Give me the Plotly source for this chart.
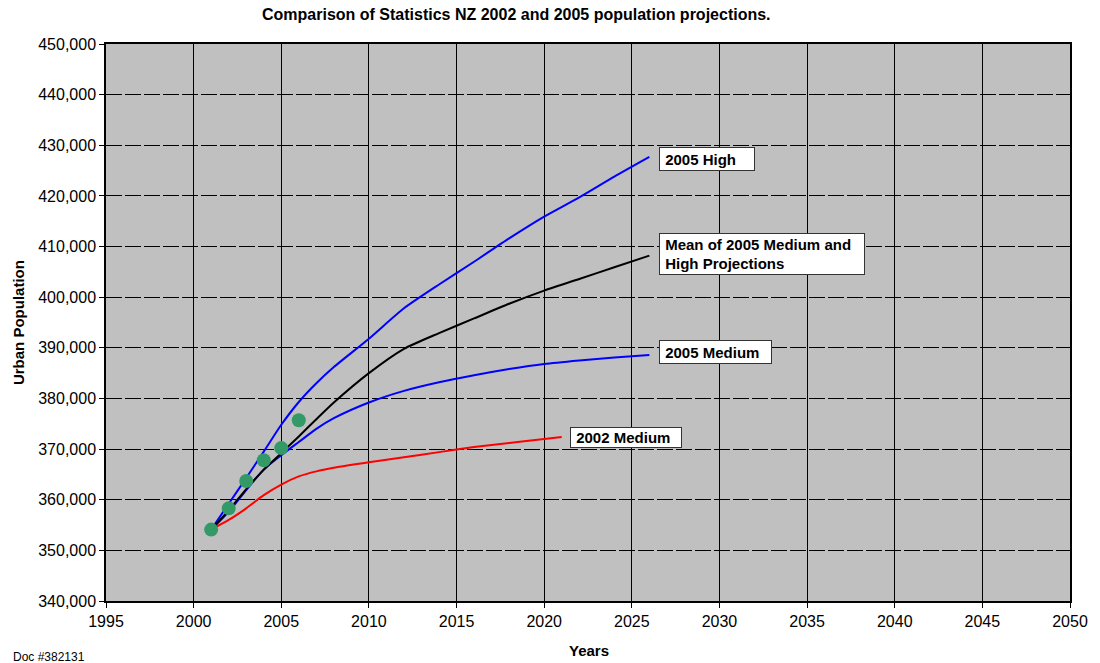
import plotly.graph_objects as go

# ---- data ----
proj_years = [2001, 2002, 2003, 2004, 2005, 2006, 2007, 2008, 2010, 2012, 2014, 2016, 2018, 2020, 2022, 2024, 2026]
high_2005 = [354100, 359200, 364300, 369500, 374800, 379300, 383000, 386200, 391800, 397800, 402500, 407000, 411600, 415900, 419700, 423800, 427700]
medium_2005 = [354100, 357600, 361900, 366000, 368800, 371400, 374000, 376100, 379200, 381500, 383200, 384600, 385800, 386800, 387500, 388100, 388600]
mean_2005 = [354100, 357900, 362100, 365900, 369200, 372500, 375900, 379200, 385000, 389800, 392900, 395800, 398700, 401300, 403600, 405900, 408200]

years_2002 = [2001, 2002, 2003, 2004, 2005, 2006, 2007, 2008, 2010, 2012, 2014, 2016, 2018, 2020, 2021]
medium_2002 = [354100, 356000, 358300, 360900, 363000, 364600, 365600, 366300, 367400, 368400, 369400, 370400, 371200, 372000, 372400]

est_years = [2001, 2002, 2003, 2004, 2005, 2006]
estimates = [354100, 358300, 363700, 367800, 370200, 375700]

labels = [["2005 High"], ["Mean of 2005 Medium and", "High Projections"], ["2005 Medium"], ["2002 Medium"]]
label_x = [2026.55, 2026.55, 2026.55, 2021.5]
label_y = [427300, 408600, 389100, 372200]
label_w = [92, 202, 109, 108]
label_h = [20, 38, 20, 17]

FONT = "Liberation Sans, Arial, sans-serif"

fig = go.Figure()
fig.add_trace(go.Scatter(x=years_2002, y=medium_2002, mode="lines",
                         line=dict(color="#FF0000", width=2, shape="spline", smoothing=0.6)))
fig.add_trace(go.Scatter(x=proj_years, y=medium_2005, mode="lines",
                         line=dict(color="#0000FF", width=2, shape="spline", smoothing=0.6)))
fig.add_trace(go.Scatter(x=proj_years, y=high_2005, mode="lines",
                         line=dict(color="#0000FF", width=2, shape="spline", smoothing=0.6)))
fig.add_trace(go.Scatter(x=proj_years, y=mean_2005, mode="lines",
                         line=dict(color="#000000", width=2, shape="spline", smoothing=0.6)))
fig.add_trace(go.Scatter(x=est_years, y=estimates, mode="markers",
                         marker=dict(color="#339966", size=14)))

for lines, x, y, w, h in zip(labels, label_x, label_y, label_w, label_h):
    text = "<br>".join("&nbsp;<b>" + s + "</b>" for s in lines)
    fig.add_annotation(x=x, y=y, xref="x", yref="y", text=text,
                       showarrow=False, xanchor="left", yanchor="middle", align="left",
                       width=w, height=h, bgcolor="white", bordercolor="#333333",
                       borderwidth=1, borderpad=1,
                       font=dict(family=FONT, size=15, color="black"))

fig.add_annotation(x=0.4256, y=1.0527, xref="paper", yref="paper",
                   text="<b>Comparison of Statistics NZ 2002 and 2005 population projections.</b>",
                   showarrow=False, xanchor="center", yanchor="middle",
                   font=dict(family=FONT, size=16, color="black"))
fig.add_annotation(x=0.501, y=-0.089, xref="paper", yref="paper", text="<b>Years</b>",
                   showarrow=False, xanchor="center", yanchor="middle",
                   font=dict(family=FONT, size=15, color="black"))
fig.add_annotation(x=-0.0907, y=0.5, xref="paper", yref="paper", text="<b>Urban Population</b>",
                   showarrow=False, xanchor="center", yanchor="middle", textangle=-90,
                   font=dict(family=FONT, size=15, color="black"))
fig.add_annotation(x=-0.099, y=-0.1013, xref="paper", yref="paper", text="Doc #382131",
                   showarrow=False, xanchor="left", yanchor="middle",
                   font=dict(family=FONT, size=12, color="black"))

fig.update_layout(
    width=1100, height=663,
    margin=dict(l=105.5, r=30, t=44.3, b=62.3),
    paper_bgcolor="white", plot_bgcolor="#C0C0C0",
    showlegend=False,
    font=dict(family=FONT, size=16, color="black"),
)
fig.update_xaxes(range=[1995, 2050], dtick=5, tick0=1995, showgrid=True, gridcolor="black", gridwidth=1,
                 showline=True, linecolor="black", linewidth=1.5, mirror=True,
                 ticks="outside", ticklen=5, tickcolor="black", zeroline=False,
                 tickfont=dict(family=FONT, size=16))
fig.update_yaxes(range=[340000, 450000], dtick=10000, tick0=340000, tickformat=",d",
                 showgrid=True, gridcolor="black", gridwidth=1, griddash="16px,3px",
                 showline=True, linecolor="black", linewidth=1.5, mirror=True,
                 ticks="outside", ticklen=5, tickcolor="black", zeroline=False,
                 tickfont=dict(family=FONT, size=16))

fig.write_html("out.html", config={"displayModeBar": False},
               post_script="document.body.style.margin='0';document.body.style.overflow='hidden';")
